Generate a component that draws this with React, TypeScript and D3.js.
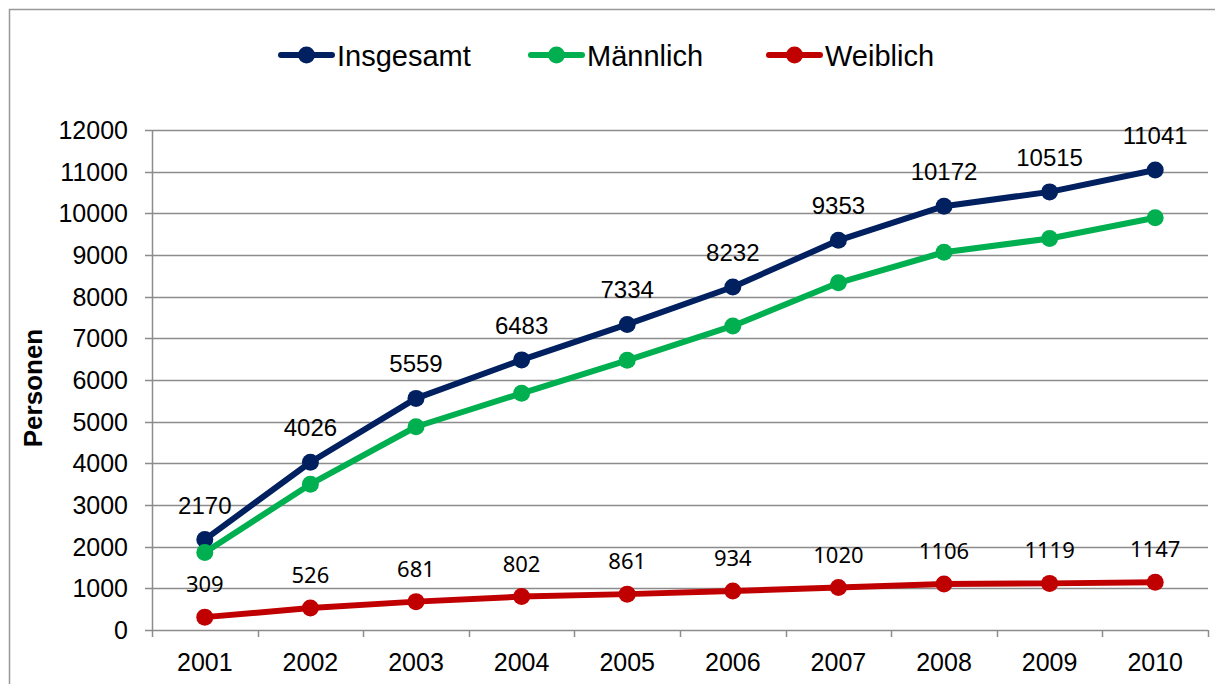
import React, { useRef, useEffect } from "react";
import * as d3 from "d3";

const years = ["2001", "2002", "2003", "2004", "2005", "2006", "2007", "2008", "2009", "2010"];
const insgesamt = [2170, 4026, 5559, 6483, 7334, 8232, 9353, 10172, 10515, 11041];
const maennlich = [1861, 3500, 4878, 5681, 6473, 7298, 8333, 9066, 9396, 9894];
const weiblich = [309, 526, 681, 802, 861, 934, 1020, 1106, 1119, 1147];
const yTicks = [0, 1000, 2000, 3000, 4000, 5000, 6000, 7000, 8000, 9000, 10000, 11000, 12000];

const seriesNames = ["Insgesamt", "Männlich", "Weiblich"];
const colors = ["#002060", "#00B050", "#C00000"];

function App() {
  const svgRef = useRef(null);

  useEffect(() => {
    const width = 1215;
    const height = 684;
    const margin = { top: 130, right: 7, bottom: 54, left: 152 };
    const innerWidth = width - margin.left - margin.right;
    const innerHeight = height - margin.top - margin.bottom;
    const font = "'Liberation Sans', Arial, sans-serif";

    const svg = d3.select(svgRef.current);
    svg.selectAll("*").remove();
    svg.attr("width", width).attr("height", height);

    // chart frame: only top and left edges fall inside the picture
    svg
      .append("path")
      .attr("d", `M9.5,${height} L9.5,9.5 L${width},9.5`)
      .attr("fill", "none")
      .attr("stroke", "#999")
      .attr("stroke-width", 1.5);

    const x = d3.scaleBand().domain(years).range([0, innerWidth]);
    const y = d3.scaleLinear().domain([0, 12000]).range([innerHeight, 0]);

    const g = svg
      .append("g")
      .attr("transform", `translate(${margin.left},${margin.top})`);

    // gridlines + y ticks
    g.selectAll(".grid")
      .data(yTicks)
      .enter()
      .append("line")
      .attr("x1", -7)
      .attr("x2", innerWidth)
      .attr("y1", (d) => Math.round(y(d)) + 0.5)
      .attr("y2", (d) => Math.round(y(d)) + 0.5)
      .attr("stroke", "#8c8c8c")
      .attr("stroke-width", 1.5);

    g.selectAll(".ylab")
      .data(yTicks)
      .enter()
      .append("text")
      .attr("x", -24)
      .attr("y", (d) => y(d))
      .attr("dy", "0.36em")
      .attr("text-anchor", "end")
      .style("font-family", font)
      .style("font-size", "25px")
      .attr("fill", "#000")
      .text((d) => d);

    // y axis line
    g.append("line")
      .attr("x1", 0.5)
      .attr("x2", 0.5)
      .attr("y1", 0)
      .attr("y2", innerHeight)
      .attr("stroke", "#8c8c8c")
      .attr("stroke-width", 1.5);

    // x ticks
    const bounds = years.map((d) => x(d)).concat([innerWidth]);
    g.selectAll(".xtick")
      .data(bounds)
      .enter()
      .append("line")
      .attr("x1", (d) => Math.round(d) + 0.5)
      .attr("x2", (d) => Math.round(d) + 0.5)
      .attr("y1", innerHeight)
      .attr("y2", innerHeight + 7)
      .attr("stroke", "#8c8c8c")
      .attr("stroke-width", 1.5);

    g.selectAll(".xlab")
      .data(years)
      .enter()
      .append("text")
      .attr("x", (d) => x(d) + x.bandwidth() / 2)
      .attr("y", innerHeight + 41)
      .attr("text-anchor", "middle")
      .style("font-family", font)
      .style("font-size", "25px")
      .attr("fill", "#000")
      .text((d) => d);

    // y title
    svg
      .append("text")
      .attr("transform", `translate(42,388) rotate(-90)`)
      .attr("text-anchor", "middle")
      .style("font-family", font)
      .style("font-size", "26px")
      .style("font-weight", "bold")
      .text("Personen");

    const allSeries = [insgesamt, maennlich, weiblich];
    const line = d3
      .line<number>()
      .x((_, i) => x(years[i]) + x.bandwidth() / 2)
      .y((d) => y(d));

    allSeries.forEach((vals, si) => {
      g.append("path")
        .datum(vals)
        .attr("d", line)
        .attr("fill", "none")
        .attr("stroke", colors[si])
        .attr("stroke-width", 6)
        .attr("stroke-linejoin", "round");
      g.selectAll(`.pt${si}`)
        .data(vals)
        .enter()
        .append("circle")
        .attr("cx", (_, i) => x(years[i]) + x.bandwidth() / 2)
        .attr("cy", (d) => y(d))
        .attr("r", 8.5)
        .attr("fill", colors[si]);
    });

    // data labels
    g.selectAll(".lab0")
      .data(insgesamt)
      .enter()
      .append("text")
      .attr("x", (_, i) => x(years[i]) + x.bandwidth() / 2)
      .attr("y", (d) => y(d) - 26)
      .attr("text-anchor", "middle")
      .style("font-family", font)
      .style("font-size", "24px")
      .text((d) => d);

    g.selectAll(".lab2")
      .data(weiblich)
      .enter()
      .append("text")
      .attr("x", (_, i) => x(years[i]) + x.bandwidth() / 2)
      .attr("y", (d) => y(d) - 25)
      .attr("text-anchor", "middle")
      .style("font-family", "'Noto Sans', sans-serif")
      .style("font-size", "22px")
      .text((d) => d);

    // legend
    const legendX = [278, 528, 766];
    seriesNames.forEach((name, i) => {
      const lg = svg.append("g").attr("transform", `translate(${legendX[i]},55)`);
      lg.append("line")
        .attr("x1", 3)
        .attr("x2", 54)
        .attr("y1", 0)
        .attr("y2", 0)
        .attr("stroke", colors[i])
        .attr("stroke-width", 6)
        .attr("stroke-linecap", "round");
      lg.append("circle").attr("cx", 28.5).attr("cy", 0).attr("r", 8.5).attr("fill", colors[i]);
      lg.append("text")
        .attr("x", 59)
        .attr("y", 10.5)
        .style("font-family", font)
        .style("font-size", "29px")
        .text(name);
    });
  }, []);

  return (
    <svg
      ref={svgRef}
      style={{ display: "block", position: "absolute", left: 0, top: 0, overflow: "hidden" }}
    ></svg>
  );
}

export default App;
